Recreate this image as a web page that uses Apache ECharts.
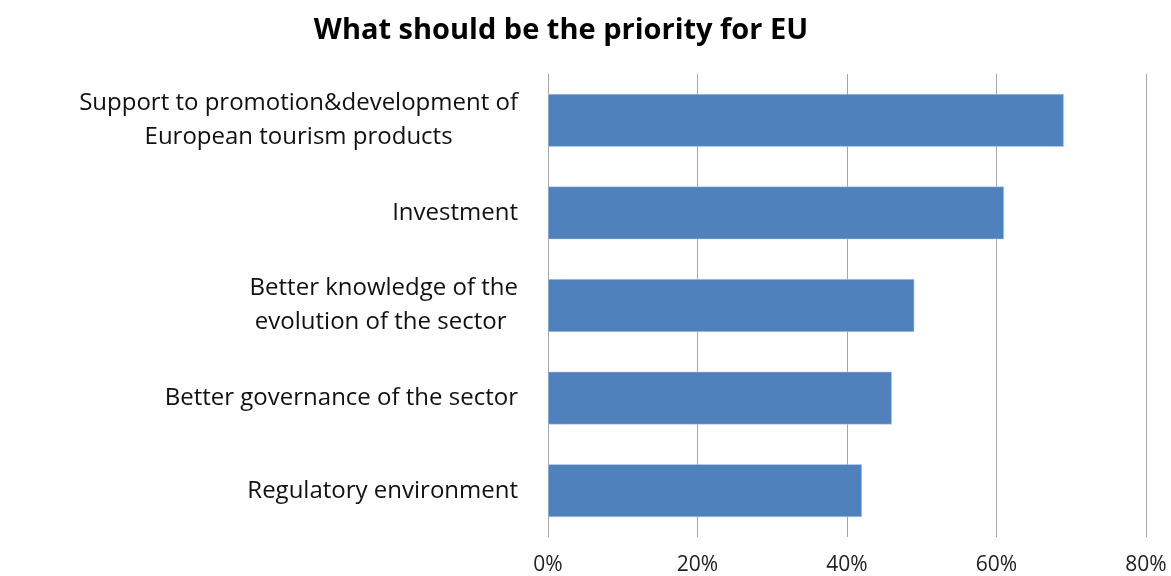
<!DOCTYPE html>
<html>
<head>
<meta charset="utf-8">
<script src="https://cdn.jsdelivr.net/npm/echarts@6/dist/echarts.min.js"></script>
<style>
  html, body { margin: 0; padding: 0; background: #fff; }
  #chart { width: 1171px; height: 576px; }
</style>
</head>
<body>
<div id="chart"></div>
<script>
// Survey answers, listed bottom to top as the category axis draws them
const categories = [
  'Regulatory environment',
  'Better governance of the sector',
  'Better knowledge of the\nevolution of the sector ',
  'Investment',
  'Support to promotion&development of\nEuropean tourism products'
];
const shares = [42, 46, 49, 61, 69];
const axisMin = 0;
const axisMax = 80;
const axisStep = 20;

const FONT = '"Open Sans", "Noto Sans", sans-serif';

const chart = echarts.init(document.getElementById('chart'), null, { renderer: 'canvas' });
chart.setOption({
  backgroundColor: '#ffffff',
  animation: false,
  title: {
    text: 'What should be the priority for EU',
    left: 556,
    textAlign: 'center',
    top: 11,
    textStyle: { fontFamily: FONT, fontWeight: 'bold', fontSize: 29, color: '#000' }
  },
  grid: { left: 548, right: 25, top: 74, bottom: 38, containLabel: false },
  xAxis: {
    type: 'value',
    min: axisMin,
    max: axisMax,
    interval: axisStep,
    axisLine: { show: false },
    axisTick: { show: false },
    splitLine: { show: true, lineStyle: { color: '#a6a6a6', width: 1 } },
    axisLabel: {
      formatter: v => v + '%',
      fontFamily: FONT,
      fontSize: 21,
      color: '#222',
      margin: 18
    }
  },
  yAxis: {
    type: 'category',
    data: categories,
    axisLine: { show: true, lineStyle: { color: '#a6a6a6', width: 1 } },
    axisTick: { show: false },
    axisLabel: {
      margin: 30,
      align: 'right',
      formatter: v => v.split('\n').map(s => '{c|' + s + '}').join('\n'),
      rich: {
        c: { align: 'center', fontFamily: FONT, fontSize: 24, color: '#111', lineHeight: 34 }
      }
    }
  },
  series: [{
    type: 'bar',
    data: shares,
    barCategoryGap: '43%',
    itemStyle: { color: '#4f81bd', borderColor: '#c5d5ea', borderWidth: 0.5 }
  }]
});
</script>
</body>
</html>
